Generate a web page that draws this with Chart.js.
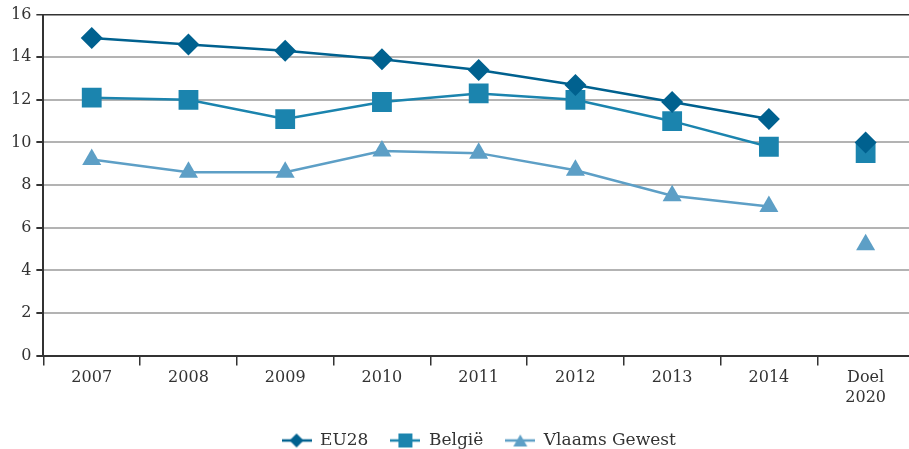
<!DOCTYPE html>
<html>
<head>
<meta charset="utf-8">
<script src="https://cdn.jsdelivr.net/npm/chart.js@4/dist/chart.umd.min.js"></script>
<style>
    html, body { margin: 0; padding: 0; background: #fff; overflow: hidden; }
    #chart { display: block; }
</style>
</head>
<body>
<canvas id="chart" width="914" height="449"></canvas>
<script>
const categories = ["2007", "2008", "2009", "2010", "2011", "2012", "2013", "2014", ["Doel", "2020"]];
const eu28 = [14.9, 14.6, 14.3, 13.9, 13.4, 12.7, 11.9, 11.1, 10.0];
const belgie = [12.1, 12.0, 11.1, 11.9, 12.3, 12.0, 11.0, 9.8, 9.5];
const vlaams = [9.2, 8.6, 8.6, 9.6, 9.5, 8.7, 7.5, 7.0, 5.2];
const yTicks = [0, 2, 4, 6, 8, 10, 12, 14, 16];

const colors = ["#00618f", "#1b84ae", "#5d9fc6"];
const styles = ["rectRot", "rect", "triangle"];
const radii = [11, 14, 11];
const font = "'DejaVu Serif', serif";

// little legend icons: line with the marker on it
function legendIcon(color, style) {
    const c = document.createElement("canvas");
    c.width = 30;
    c.height = 16;
    const g = c.getContext("2d");
    g.strokeStyle = color;
    g.fillStyle = color;
    g.lineWidth = 2.5;
    g.beginPath();
    g.moveTo(0, 8);
    g.lineTo(30, 8);
    g.stroke();
    g.beginPath();
    if (style === "rectRot") {
        g.moveTo(15, 1); g.lineTo(22, 8); g.lineTo(15, 15); g.lineTo(8, 8);
    } else if (style === "rect") {
        g.rect(8, 1, 14, 14);
    } else {
        g.moveTo(15, 2); g.lineTo(22, 14); g.lineTo(8, 14);
    }
    g.closePath();
    g.fill();
    return c;
}

function makeSet(label, data, i) {
    return {
        label: label,
        data: data,
        borderColor: colors[i],
        backgroundColor: colors[i],
        borderWidth: 2.5,
        pointStyle: styles[i],
        pointRadius: radii[i],
        pointHoverRadius: radii[i],
        pointBorderWidth: 0,
        tension: 0,
        segment: {
            borderColor: (ctx) => ctx.p1DataIndex === 8 ? "transparent" : undefined,
        },
    };
}

const ctx = document.getElementById("chart").getContext("2d");

new Chart(ctx, {
    type: "line",
    data: {
        labels: categories,
        datasets: [
            makeSet("EU28", eu28, 0),
            makeSet("België", belgie, 1),
            makeSet("Vlaams Gewest", vlaams, 2),
        ],
    },
    options: {
        responsive: false,
        animation: false,
        layout: {
            autoPadding: false,
            padding: { top: 0, left: 6, right: 0, bottom: -10 },
        },
        scales: {
            x: {
                offset: true,
                afterFit: (scale) => {
                    scale.paddingRight = 0;
                    scale.paddingLeft = 0;
                },
                grid: {
                    offset: true,
                    drawOnChartArea: false,
                    drawTicks: true,
                    tickLength: 10,
                    color: "#333",
                    lineWidth: 1.5,
                },
                border: { color: "#333", width: 2 },
                ticks: {
                    color: "#333",
                    font: { family: font, size: 16 },
                    padding: 3,
                    maxRotation: 0,
                },
            },
            y: {
                min: 0,
                max: 16,
                afterBuildTicks: (axis) => {
                    axis.ticks = yTicks.map((v) => ({ value: v }));
                },
                grid: {
                    color: (c) => (c.tick && c.tick.value === 16 ? "#333" : "#b3b3b3"),
                    lineWidth: (c) => (c.tick && c.tick.value === 16 ? 1.5 : 2),
                    tickColor: "#333",
                    tickLength: 7,
                },
                border: { color: "#333", width: 2 },
                ticks: {
                    color: "#333",
                    font: { family: font, size: 16 },
                    padding: 5,
                },
            },
        },
        plugins: {
            legend: {
                position: "bottom",
                fullSize: false,
                labels: {
                    usePointStyle: true,
                    pointStyleWidth: 30,
                    color: "#333",
                    font: { family: font, size: 17, lineHeight: 1 },
                    padding: 22,
                    generateLabels: (chart) => {
                        const items = Chart.defaults.plugins.legend.labels.generateLabels(chart);
                        items.forEach((it, i) => {
                            it.pointStyle = legendIcon(colors[i], styles[i]);
                        });
                        return items;
                    },
                },
            },
            tooltip: { enabled: false },
        },
    },
});
</script>
</body>
</html>
